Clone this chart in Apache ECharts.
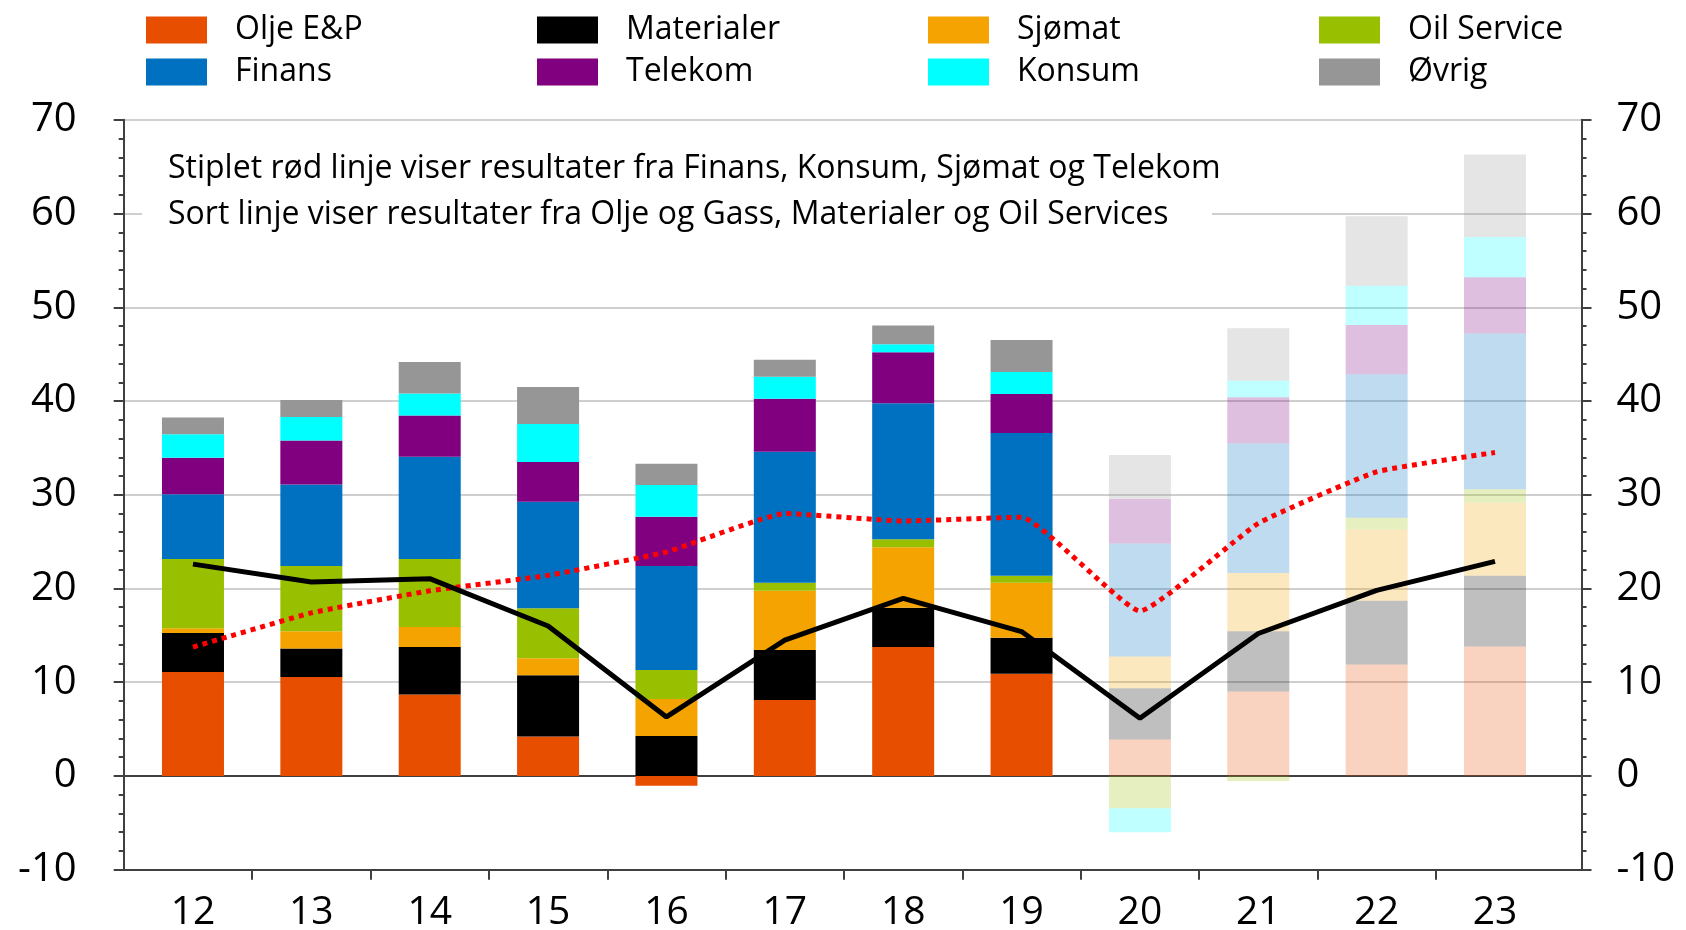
<!DOCTYPE html>
<html lang="no">
<head>
<meta charset="UTF-8">
<title>Resultater per sektor</title>
<script src="https://cdn.jsdelivr.net/npm/echarts@6.0.0/dist/echarts.min.js"></script>
<style>
    html, body { margin: 0; padding: 0; background: #ffffff; }
    #chart { width: 1686px; height: 930px; }
</style>
</head>
<body>
<div id="chart"></div>
<script>
    // years on the category axis (20-23 are estimates, drawn faded)
    const years = ['12', '13', '14', '15', '16', '17', '18', '19', '20', '21', '22', '23'];
    const firstEstimate = 8;

    // stacked contributions, bottom to top
    const oljeEP     = [11.1, 10.55, 8.7, 4.2, -1.05, 8.1, 13.75, 10.9, 3.9, 9.0, 11.9, 13.8];
    const materialer = [4.15, 3.05, 5.05, 6.55, 4.25, 5.35, 4.2, 3.85, 5.45, 6.45, 6.8, 7.55];
    const sjomat     = [0.5, 1.85, 2.15, 1.8, 3.95, 6.3, 6.45, 5.85, 3.4, 6.2, 7.6, 7.8];
    const oilService = [7.4, 6.95, 7.25, 5.35, 3.1, 0.85, 0.85, 0.75, -3.45, -0.55, 1.25, 1.45];
    const finans     = [6.9, 8.7, 10.9, 11.35, 11.1, 14.0, 14.5, 15.25, 12.05, 13.85, 15.3, 16.6];
    const telekom    = [3.9, 4.7, 4.4, 4.25, 5.25, 5.65, 5.45, 4.15, 4.75, 4.9, 5.25, 6.0];
    const konsum     = [2.5, 2.5, 2.35, 4.05, 3.4, 2.35, 0.85, 2.35, -2.55, 1.75, 4.2, 4.3];
    const ovrig      = [1.8, 1.8, 3.35, 3.95, 2.25, 1.8, 2.0, 3.4, 4.7, 5.6, 7.4, 8.8];

    // lines
    const rodLinje  = [13.75, 17.4, 19.75, 21.4, 23.9, 28.0, 27.2, 27.6, 17.6, 26.95, 32.45, 34.5];
    const sortLinje = [22.6, 20.7, 21.05, 16.0, 6.3, 14.5, 18.95, 15.4, 6.15, 15.2, 19.8, 22.9];

    const note1 = 'Stiplet rød linje viser resultater fra Finans, Konsum, Sjømat og Telekom';
    const note2 = 'Sort linje viser resultater fra Olje og Gass, Materialer og Oil Services';

    const FONT = 'Open Sans';
    const AXIS = '#404040';

    const stackDefs = [
        ['Olje E&P', oljeEP, '#E84E00'],
        ['Materialer', materialer, '#000000'],
        ['Sjømat', sjomat, '#F4A300'],
        ['Oil Service', oilService, '#99C000'],
        ['Finans', finans, '#0070C0'],
        ['Telekom', telekom, '#800080'],
        ['Konsum', konsum, '#00FFFF'],
        ['Øvrig', ovrig, '#969696']
    ];

    const barSeries = stackDefs.map(([name, vals, color]) => ({
        name: name,
        type: 'bar',
        stack: 'sum',
        xAxisIndex: 0,
        yAxisIndex: 0,
        barWidth: 62,
        itemStyle: { color: color },
        data: vals.map((v, i) => i >= firstEstimate ? { value: v, itemStyle: { opacity: 0.25 } } : v)
    }));

    // legend: four columns of two
    const legendCols = [['Olje E&P', 'Finans'], ['Materialer', 'Telekom'], ['Sjømat', 'Konsum'], ['Oil Service', 'Øvrig']];
    const legendLeft = [146, 537, 928, 1319];

    const chart = echarts.init(document.getElementById('chart'));
    chart.setOption({
        animation: false,
        backgroundColor: '#ffffff',
        textStyle: { fontFamily: FONT },
        legend: legendCols.map((names, k) => ({
            orient: 'vertical',
            left: legendLeft[k],
            top: 14,
            padding: 0,
            itemWidth: 61,
            itemHeight: 27,
            itemGap: 10,
            icon: 'rect',
            selectedMode: false,
            data: names,
            textStyle: { fontFamily: FONT, fontSize: 32, color: '#000', padding: [0, 0, 6, 23] }
        })),
        grid: [
            { left: 133.8, right: 131.8, top: 119.8, bottom: 60.3, containLabel: false, outerBoundsMode: 'none' },
            { left: 123.7, right: 104.5, top: 119.8, bottom: 60.3, containLabel: false, outerBoundsMode: 'none' }
        ],
        xAxis: [
            {
                gridIndex: 0,
                type: 'category',
                data: years,
                axisLine: { show: false },
                axisTick: { show: false },
                axisLabel: { fontFamily: FONT, fontSize: 39, color: '#000', margin: 24 },
                splitLine: { show: false }
            },
            {
                // frame axis in category units, ticks between the years
                gridIndex: 1,
                type: 'value',
                position: 'bottom',
                min: -0.5855,
                max: 11.731,
                axisLine: { show: true, onZero: false, lineStyle: { color: AXIS, width: 2 } },
                axisTick: {
                    show: true, length: 10,
                    customValues: years.slice(1).map((_, i) => i + 0.5),
                    lineStyle: { color: AXIS, width: 2 }
                },
                axisLabel: { show: false },
                splitLine: { show: false }
            },
            {
                // zero line
                gridIndex: 1,
                type: 'value',
                position: 'top',
                min: -0.5855,
                max: 11.731,
                axisLine: { show: true, onZero: true, lineStyle: { color: AXIS, width: 2 } },
                axisTick: { show: false },
                axisLabel: { show: false },
                splitLine: { show: false }
            }
        ],
        yAxis: [
            { gridIndex: 0, type: 'value', min: -10, max: 70, interval: 10, show: false },
            {
                gridIndex: 1,
                type: 'value',
                position: 'left',
                min: -10, max: 70, interval: 10,
                axisLine: { show: true, onZero: false, lineStyle: { color: AXIS, width: 2 } },
                axisTick: { show: true, inside: false, length: 10, lineStyle: { color: AXIS, width: 2 } },
                minorTick: { show: true, splitNumber: 5, length: 5, lineStyle: { color: AXIS, width: 2 } },
                axisLabel: { fontFamily: FONT, fontSize: 40, color: '#000', margin: 47 },
                splitLine: { show: true, lineStyle: { color: '#BFBFBF', width: 1.5 } }
            },
            {
                gridIndex: 1,
                type: 'value',
                position: 'right',
                min: -10, max: 70, interval: 10,
                axisLine: { show: true, onZero: false, lineStyle: { color: AXIS, width: 2 } },
                axisTick: { show: true, inside: false, length: 10, lineStyle: { color: AXIS, width: 2 } },
                minorTick: { show: true, splitNumber: 5, length: 5, lineStyle: { color: AXIS, width: 2 } },
                axisLabel: { fontFamily: FONT, fontSize: 40, color: '#000', margin: 35 },
                splitLine: { show: false }
            }
        ],
        graphic: [
            {
                type: 'rect', left: 142, top: 128, z: 10,
                shape: { width: 1070, height: 110 },
                style: { fill: '#ffffff' }
            },
            {
                type: 'text', left: 168, top: 145.5, z: 11,
                style: {
                    text: note1 + '\n' + note2,
                    font: '32px "Open Sans"',
                    lineHeight: 46,
                    fill: '#000'
                }
            }
        ],
        series: barSeries.concat([
            {
                name: 'Rød linje',
                type: 'line',
                xAxisIndex: 0,
                yAxisIndex: 0,
                data: rodLinje,
                symbol: 'none',
                smooth: 0.12,
                z: 5,
                lineStyle: { color: '#FF0000', width: 5, type: [5, 5], cap: 'butt' }
            },
            {
                name: 'Sort linje',
                type: 'line',
                xAxisIndex: 0,
                yAxisIndex: 0,
                data: sortLinje,
                symbol: 'none',
                z: 6,
                lineStyle: { color: '#000000', width: 5 }
            }
        ])
    });
</script>
</body>
</html>
